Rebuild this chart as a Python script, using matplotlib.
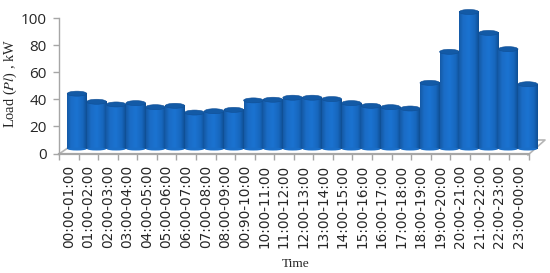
import numpy as np
import matplotlib
matplotlib.use('Agg')
import matplotlib.pyplot as plt
from matplotlib.patches import Ellipse
from matplotlib.colors import LinearSegmentedColormap

hours = ['00:00-01:00', '01:00-02:00', '02:00-03:00', '03:00-04:00', '04:00-05:00', '05:00-06:00',
         '06:00-07:00', '07:00-08:00', '08:00-09:00', '00:90-10:00', '10:00-11:00', '11:00-12:00',
         '12:00-13:00', '13:00-14:00', '14:00-15:00', '15:00-16:00', '16:00-17:00', '17:00-18:00',
         '18:00-19:00', '19:00-20:00', '20:00-21:00', '21:00-22:00', '22:00-23:00', '23:00-00:00']
load = [41, 35, 33, 34, 31, 32, 27, 28, 29, 36, 36.5, 38,
        38, 37, 34, 32, 31, 30, 49, 72, 101.5, 86, 74, 48]
yticks = [0, 20, 40, 60, 80, 100]

W, H = 550, 273
barWidth = 1.0
capHeight = 5.0
axisGrey = '#a6a6a6'
textColour = '#262626'

cyl = LinearSegmentedColormap.from_list('cyl', [(0, '#155aa6'), (0.2, '#1a6cc6'), (0.5, '#1b73d1'),
                                                (0.8, '#1767bd'), (1, '#0f4e93')])
grad = np.linspace(0, 1, 64).reshape(1, -1)

fig = plt.figure(figsize=(W / 100, H / 100), dpi=100)

# plain pixel overlay for the 3d floor edges
bg = fig.add_axes([0, 0, 1, 1], zorder=0)
bg.set_xlim(0, W)
bg.set_ylim(H, 0)
bg.axis('off')
bg.plot([59, 67], [154, 148.5], color='#b5b5b5', linewidth=1.2)
bg.plot([528, 545, 535], [155, 140, 140], color='#b5b5b5', linewidth=1.2)

# bars sit on the back of the floor, this axes is only for the bars
barAx = fig.add_axes([0, 0, 1, 1], zorder=1)
barAx.patch.set_alpha(0)
barAx.axis('off')
x0px, dxpx = 77.0, 19.6
ybase, pxPerUnit = 149.0, 1.35
capData = capHeight / pxPerUnit

for i, v in enumerate(load):
    barAx.imshow(grad, cmap=cyl, aspect='auto', extent=(i - barWidth / 2, i + barWidth / 2, 0, v), zorder=3 + i)
    barAx.add_patch(Ellipse((i, 0), barWidth * 0.96, capData * 0.6, facecolor='#1a6ec8', edgecolor='none',
                            zorder=3 + i))
    barAx.add_patch(Ellipse((i, v), barWidth, capData, facecolor='#135aa6', edgecolor='#104f95',
                            linewidth=0.4, zorder=3 + i))
barAx.set_xlim(-x0px / dxpx, (W - x0px) / dxpx)
barAx.set_ylim((ybase - H) / pxPerUnit, ybase / pxPerUnit)

# front axis with ticks and labels
ax = fig.add_axes([59 / W, 1 - 153.5 / H, (528.5 - 59) / W, (153.5 - 18) / H], zorder=2)
ax.patch.set_alpha(0)
ax.set_xlim(-0.5, len(hours) - 0.5 - 0.02)
ax.set_ylim(0, 100)
for s in ['top', 'right']:
    ax.spines[s].set_visible(False)
for s in ['left', 'bottom']:
    ax.spines[s].set_color(axisGrey)
ax.spines['left'].set_linewidth(1.0)
ax.spines['bottom'].set_linewidth(1.6)
ax.set_yticks(yticks)
ax.set_yticklabels([str(t) for t in yticks], fontsize=11, color=textColour, family='Open Sans')
ax.set_xticks(np.arange(len(hours) + 1) - 0.5)
ax.set_xticklabels([])
ax.tick_params(axis='y', length=4, color=axisGrey, width=1, pad=5)
ax.tick_params(axis='x', length=4, color=axisGrey, width=1)
for i, lab in enumerate(hours):
    ax.annotate(lab, (i, 0), xytext=(0, -8), textcoords='offset points', rotation=90, ha='center', va='top',
                fontsize=9.8, color=textColour, family='DejaVu Sans', annotation_clip=False)

fig.text(10.5 / W, 1 - 84 / H, 'Load ($\\mathit{Pl}$) , kW', rotation=90, ha='center', va='center',
         fontsize=10.4, family='Liberation Serif', color=textColour, math_fontfamily='stix')
fig.text(296 / W, 1 - 264 / H, 'Time', ha='center', va='center', fontsize=9.6,
         family='Liberation Serif', color=textColour)

fig.savefig('out.png', dpi=100)
